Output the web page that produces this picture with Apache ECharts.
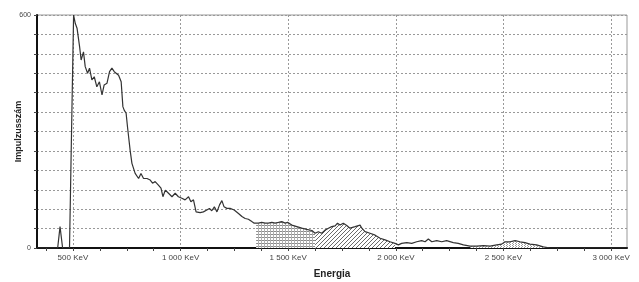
<!DOCTYPE html>
<html>
<head>
<meta charset="utf-8">
<script src="https://cdn.jsdelivr.net/npm/echarts@6/dist/echarts.min.js"></script>
<style>
  html, body { margin: 0; padding: 0; background: #fff; }
  #chart { width: 639px; height: 282px; }
</style>
</head>
<body>
<div id="chart"></div>
<script>
// spektrum adatok (keV, impulzus)
var energy = [333, 429, 440, 452, 484, 503, 511, 519, 531, 538, 549, 557, 568, 577, 588, 599, 611, 623, 635, 645,
  658, 670, 681, 692, 701, 712, 724, 732, 738, 747, 754, 758, 766, 774, 789, 805, 816, 828, 844, 859,
  870, 882, 897, 909, 918, 929, 944, 960, 975, 990, 1006, 1021, 1037, 1048, 1060, 1072, 1091, 1106, 1122, 1134,
  1145, 1157, 1169, 1181, 1192, 1202, 1215, 1230, 1249, 1269, 1285, 1300, 1315, 1331, 1342, 1351, 1362, 1377, 1393, 1408,
  1424, 1439, 1455, 1470, 1486, 1497, 1517, 1540, 1563, 1586, 1610, 1625, 1640, 1656, 1671, 1687, 1702, 1718, 1729, 1741,
  1756, 1772, 1787, 1811, 1834, 1842, 1857, 1880, 1904, 1927, 1950, 1973, 1996, 2012, 2027, 2051, 2074, 2097, 2120, 2136,
  2151, 2167, 2190, 2213, 2236, 2267, 2290, 2314, 2345, 2376, 2407, 2438, 2469, 2492, 2507, 2531, 2554, 2577, 2600, 2623,
  2654, 2685, 2716, 3074];
var counts = [0, 0, 55, 0, 0, 600, 578, 566, 518, 484, 505, 467, 450, 463, 433, 441, 415, 428, 394, 420,
  424, 454, 463, 454, 458, 445, 428, 364, 355, 347, 309, 304, 250, 218, 192, 179, 192, 179, 179, 175,
  167, 171, 162, 154, 132, 149, 141, 132, 141, 132, 128, 124, 132, 119, 124, 93, 91, 93, 98, 102,
  96, 106, 93, 111, 122, 106, 102, 102, 98, 89, 81, 76, 74, 68, 64, 59, 64, 66, 64, 64,
  66, 64, 66, 68, 64, 66, 59, 55, 51, 48, 45, 38, 42, 38, 46, 51, 55, 57, 64, 59,
  64, 58, 51, 55, 59, 51, 42, 38, 33, 25, 21, 16, 12, 8, 12, 14, 12, 16, 19, 16,
  23, 16, 19, 16, 19, 14, 12, 8, 5, 5, 6, 5, 8, 10, 16, 16, 19, 16, 14, 10,
  8, 3, 0, 0];
// kijelölt tartományok (keV)
var regionStart = [1351, 1625, 2345];
var regionEnd = [1625, 1996, 2716];
var xTicks = [500, 1000, 1500, 2000, 2500, 3000];

var points = energy.map(function (e, i) { return [e, counts[i]]; });

// kitöltési minták
function makePattern(w, h, draw) {
  var c = document.createElement('canvas');
  c.width = w; c.height = h;
  var ctx = c.getContext('2d');
  ctx.fillStyle = '#fff';
  ctx.fillRect(0, 0, w, h);
  draw(ctx);
  return { image: c, repeat: 'repeat' };
}
var patterns = [
  makePattern(3, 3, function (ctx) {
    ctx.fillStyle = '#8a8a8a';
    ctx.fillRect(0, 0, 3, 1);
    ctx.fillStyle = '#b0b0b0';
    ctx.fillRect(0, 0, 1, 3);
  }),
  makePattern(4, 4, function (ctx) {
    ctx.fillStyle = '#6a6a6a';
    ctx.fillRect(3, 0, 1, 1);
    ctx.fillRect(2, 1, 1, 1);
    ctx.fillRect(1, 2, 1, 1);
    ctx.fillRect(0, 3, 1, 1);
  }),
  makePattern(3, 2, function (ctx) {
    ctx.fillStyle = '#9a9a9a';
    ctx.fillRect(0, 0, 1, 1);
    ctx.fillRect(2, 1, 1, 1);
  })
];

var minorTicks = [];
for (var t = 375; t <= 3000; t += 125) {
  if (t % 500 !== 0) minorTicks.push(t);
}

function fmtKeV(v) {
  if (v >= 1000) {
    var rest = String(v % 1000);
    while (rest.length < 3) rest = '0' + rest;
    return Math.floor(v / 1000) + ' ' + rest + ' KeV';
  }
  return v + ' KeV';
}

var regionSeries = regionStart.map(function (s, k) {
  return {
    type: 'line',
    data: points.filter(function (p) { return p[0] >= s && p[0] <= regionEnd[k]; }),
    showSymbol: false,
    silent: true,
    lineStyle: { width: 0 },
    areaStyle: { color: patterns[k], opacity: 1 },
    z: 2
  };
});

var myChart = echarts.init(document.getElementById('chart'));
var option = {
  animation: false,
  backgroundColor: '#fff',
  grid: {
    left: 37, right: 12, top: 15, bottom: 34,
    outerBoundsMode: 'none',
    show: true, borderColor: '#999', borderWidth: 1
  },
  xAxis: [{
    type: 'value',
    min: 333,
    max: 3074,
    name: 'Energia',
    nameLocation: 'middle',
    nameGap: 21,
    nameMoveOverlap: false,
    nameTextStyle: { fontFamily: 'Liberation Sans', fontWeight: 'bold', fontSize: 10, color: '#222' },
    axisLine: { lineStyle: { color: '#111', width: 2 } },
    axisTick: { customValues: xTicks, length: 3, lineStyle: { color: '#444' } },
    axisLabel: {
      customValues: xTicks,
      formatter: fmtKeV,
      fontFamily: 'Liberation Sans', fontSize: 8, color: '#444', margin: 6
    },
    splitLine: { show: true, lineStyle: { color: '#999', type: [2, 2], width: 1 } }
  }, {
    type: 'value',
    min: 333,
    max: 3074,
    position: 'bottom',
    axisLine: { show: false },
    axisTick: { customValues: minorTicks, length: 3, lineStyle: { color: '#444' } },
    axisLabel: { show: false },
    splitLine: { show: false }
  }],
  yAxis: {
    type: 'value',
    min: 0,
    max: 600,
    interval: 50,
    name: 'Impulzusszám',
    nameLocation: 'middle',
    nameGap: 14,
    nameMoveOverlap: false,
    nameTextStyle: { fontFamily: 'Liberation Sans', fontWeight: 'bold', fontSize: 9, color: '#222' },
    axisLine: { show: true, lineStyle: { color: '#111', width: 2 } },
    axisTick: { show: true, length: 3, lineStyle: { color: '#444' } },
    axisLabel: {
      formatter: function (v) { return (v === 0 || v === 600) ? v : ''; },
      fontFamily: 'Liberation Sans', fontSize: 7, color: '#444', margin: 6
    },
    splitLine: { show: true, lineStyle: { color: '#999', type: [2, 2], width: 1 } }
  },
  series: regionSeries.concat([{
    type: 'line',
    data: points,
    showSymbol: false,
    silent: true,
    lineStyle: { color: '#333', width: 1.2 },
    z: 3
  }])
};
myChart.setOption(option);
</script>
</body>
</html>
